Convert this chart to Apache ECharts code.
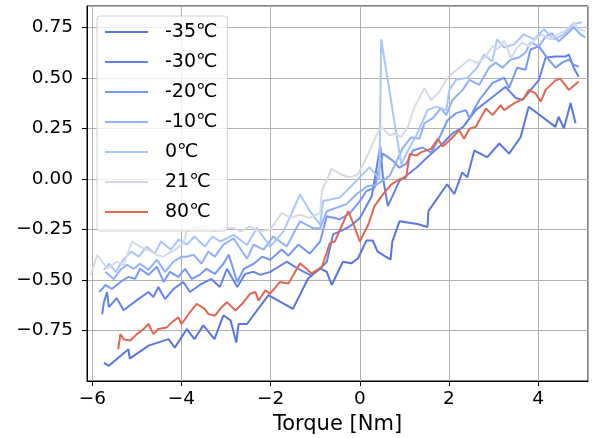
<!DOCTYPE html>
<html>
<head>
<meta charset="utf-8">
<script src="https://cdn.jsdelivr.net/npm/echarts@6/dist/echarts.min.js"></script>
<style>
  html, body { margin: 0; padding: 0; background: #fff; }
  #chart { width: 594px; height: 438px; }
</style>
</head>
<body>
<div id="chart"></div>
<script>
// legend names, one per temperature
const temps = ['-35℃', '-30℃', '-20℃', '-10℃', '0℃', '21℃', '80℃'];

// torque (x) and response (y)
const x35 = [-5.74,-5.63,-5.19,-5.16,-4.74,-4.29,-4.15,-3.88,-3.71,-3.51,-3.26,-3.06,-2.90,-2.77,-2.72,-2.53,-2.05,-1.50,-1.16,-0.89,-0.74,-0.63,-0.38,-0.19,-0.04,0.15,0.29,0.40,0.69,0.73,0.89,1.29,1.52,1.54,1.96,2.12,2.30,2.41,2.57,2.86,3.13,3.35,3.61,3.79,4.39,4.46,4.58,4.73,4.84];
const y35 = [-0.91,-0.925,-0.843,-0.889,-0.825,-0.793,-0.835,-0.743,-0.793,-0.725,-0.793,-0.675,-0.70,-0.81,-0.718,-0.718,-0.575,-0.643,-0.493,-0.443,-0.46,-0.525,-0.41,-0.418,-0.393,-0.305,-0.305,-0.36,-0.40,-0.31,-0.21,-0.223,-0.238,-0.16,-0.027,-0.075,0.032,0.007,0.14,0.107,0.175,0.125,0.207,0.357,0.257,0.307,0.25,0.375,0.275];

const x30 = [-5.78,-5.74,-5.67,-5.63,-5.45,-5.30,-5.00,-4.74,-4.63,-4.52,-4.37,-4.18,-3.96,-3.81,-3.59,-3.33,-3.14,-2.98,-2.75,-2.57,-2.38,-2.23,-2.01,-1.64,-1.38,-1.12,-0.89,-0.74,-0.60,-0.45,-0.22,0.00,0.27,0.46,0.52,0.63,0.89,1.27,1.56,1.86,2.08,2.31,2.60,2.98,3.27,3.50,3.65,4.02,4.17,4.39,4.61,4.69,4.80,4.91];
const y30 = [-0.67,-0.61,-0.56,-0.635,-0.59,-0.65,-0.60,-0.56,-0.585,-0.535,-0.595,-0.545,-0.51,-0.56,-0.525,-0.495,-0.535,-0.445,-0.535,-0.47,-0.46,-0.475,-0.46,-0.41,-0.445,-0.475,-0.445,-0.41,-0.275,-0.26,-0.235,-0.195,-0.085,0.16,0.005,-0.135,-0.01,0.055,0.115,0.175,0.225,0.255,0.34,0.405,0.455,0.40,0.39,0.49,0.60,0.605,0.605,0.615,0.55,0.505];

const x20 = [-5.85,-5.78,-5.71,-5.56,-5.37,-5.19,-5.04,-4.93,-4.74,-4.55,-4.40,-4.26,-4.07,-3.92,-3.77,-3.59,-3.44,-3.25,-3.06,-2.94,-2.75,-2.60,-2.38,-2.19,-2.01,-1.75,-1.60,-1.38,-1.12,-0.89,-0.74,-0.45,-0.22,0.00,0.15,0.33,0.52,0.74,0.89,1.04,1.19,1.41,1.60,1.79,1.97,2.16,2.38,2.46,2.68,2.98,3.24,3.35,3.53,3.72,3.83,4.02,4.20,4.39,4.54,4.69,4.80,4.91];
const y20 = [-0.56,-0.545,-0.525,-0.545,-0.51,-0.485,-0.495,-0.445,-0.475,-0.435,-0.51,-0.46,-0.485,-0.445,-0.495,-0.475,-0.445,-0.47,-0.42,-0.375,-0.51,-0.445,-0.42,-0.385,-0.40,-0.35,-0.38,-0.325,-0.37,-0.31,-0.185,-0.20,-0.17,-0.11,-0.06,-0.045,0.125,0.09,0.055,0.075,0.14,0.155,0.13,0.205,0.29,0.325,0.34,0.30,0.39,0.475,0.50,0.45,0.55,0.54,0.64,0.655,0.60,0.55,0.575,0.59,0.565,0.555];

const x10 = [-5.71,-5.52,-5.37,-5.22,-5.07,-4.93,-4.74,-4.55,-4.37,-4.18,-4.00,-3.88,-3.73,-3.55,-3.40,-3.25,-3.06,-2.83,-2.53,-2.38,-2.16,-1.94,-1.64,-1.34,-1.04,-0.89,-0.74,-0.30,-0.07,0.18,0.37,0.67,0.97,1.15,1.34,1.45,1.64,1.82,1.94,2.08,2.31,2.46,2.68,2.90,3.05,3.20,3.39,3.57,3.72,3.83,4.02,4.17,4.31,4.46,4.69,4.80,4.95,5.06];
const y10 = [-0.46,-0.495,-0.45,-0.425,-0.445,-0.42,-0.45,-0.40,-0.46,-0.41,-0.385,-0.385,-0.375,-0.42,-0.36,-0.385,-0.325,-0.295,-0.395,-0.325,-0.35,-0.285,-0.335,-0.21,-0.245,-0.245,-0.16,-0.125,-0.075,-0.035,-0.03,0.015,0.155,0.205,0.20,0.275,0.30,0.35,0.315,0.39,0.44,0.49,0.465,0.55,0.575,0.55,0.59,0.60,0.625,0.675,0.655,0.705,0.72,0.68,0.725,0.75,0.715,0.70];

const x0 = [-5.74,-5.63,-5.47,-5.31,-5.13,-4.96,-4.78,-4.60,-4.46,-4.24,-4.06,-3.88,-3.71,-3.48,-3.30,-3.13,-2.83,-2.53,-2.31,-2.01,-1.71,-1.34,-1.12,-0.89,-0.82,-0.45,-0.22,0.00,0.22,0.44,0.48,0.93,1.08,1.27,1.52,1.71,1.94,2.01,2.16,2.42,2.63,2.79,2.97,3.08,3.24,3.46,3.68,3.91,4.13,4.35,4.58,4.80,4.98];
const y0 = [-0.45,-0.42,-0.46,-0.40,-0.36,-0.385,-0.335,-0.37,-0.31,-0.35,-0.30,-0.325,-0.285,-0.335,-0.285,-0.31,-0.277,-0.327,-0.243,-0.335,-0.26,-0.077,-0.16,-0.227,-0.11,-0.093,-0.043,0.007,0.057,0.0,0.69,0.073,0.14,0.215,0.34,0.357,0.34,0.44,0.49,0.50,0.55,0.615,0.58,0.69,0.65,0.665,0.715,0.69,0.74,0.69,0.715,0.765,0.775];

const x21 = [-6.04,-5.89,-5.67,-5.45,-5.30,-5.11,-4.93,-4.74,-4.55,-4.40,-4.29,-4.15,-3.96,-3.88,-3.73,-3.51,-3.29,-3.06,-2.83,-2.68,-2.46,-2.27,-2.01,-1.75,-1.56,-1.34,-1.12,-0.89,-0.85,-0.63,-0.40,-0.22,-0.04,0.19,0.37,0.48,0.67,0.78,0.93,1.08,1.23,1.45,1.60,1.79,1.94,2.08,2.23,2.46,2.64,2.83,2.98,3.09,3.24,3.39,3.53,3.65,3.79,3.94,4.09,4.28,4.43,4.61,4.80,4.91,5.06];
const y21 = [-0.477,-0.377,-0.443,-0.41,-0.427,-0.31,-0.335,-0.352,-0.377,-0.385,-0.368,-0.352,-0.318,-0.26,-0.243,-0.235,-0.26,-0.243,-0.243,-0.26,-0.235,-0.26,-0.252,-0.168,-0.193,-0.177,-0.193,-0.168,-0.06,0.05,0.02,0.007,0.023,0.123,0.215,0.257,0.215,0.223,0.207,0.257,0.357,0.448,0.39,0.432,0.49,0.523,0.548,0.59,0.573,0.607,0.657,0.64,0.682,0.598,0.648,0.673,0.657,0.69,0.715,0.69,0.715,0.732,0.773,0.74,0.732];

const x80 = [-5.42,-5.37,-5.30,-5.15,-5.00,-4.85,-4.74,-4.63,-4.52,-4.33,-4.22,-4.07,-4.00,-3.81,-3.66,-3.48,-3.40,-3.25,-3.10,-2.98,-2.79,-2.64,-2.46,-2.34,-2.27,-2.12,-2.01,-1.79,-1.60,-1.34,-1.08,-0.85,-0.67,-0.56,-0.26,-0.15,0.00,0.19,0.33,0.52,0.71,0.89,1.04,1.12,1.27,1.38,1.60,1.75,1.86,2.01,2.23,2.34,2.46,2.60,2.83,2.98,3.16,3.24,3.46,3.68,3.79,3.94,4.06,4.17,4.39,4.50,4.69,4.91];
const y80 = [-0.843,-0.768,-0.793,-0.80,-0.768,-0.743,-0.718,-0.768,-0.743,-0.735,-0.71,-0.685,-0.718,-0.66,-0.618,-0.643,-0.668,-0.677,-0.635,-0.61,-0.652,-0.618,-0.568,-0.56,-0.602,-0.552,-0.568,-0.51,-0.518,-0.418,-0.468,-0.435,-0.318,-0.31,-0.16,-0.218,-0.31,-0.227,-0.135,-0.077,-0.027,-0.002,0.007,0.123,0.115,0.132,0.148,0.198,0.16,0.19,0.24,0.198,0.248,0.257,0.348,0.315,0.365,0.34,0.373,0.398,0.44,0.423,0.382,0.44,0.487,0.495,0.44,0.482];

const xs = [x35, x30, x20, x10, x0, x21, x80];
const ys = [y35, y30, y20, y10, y0, y21, y80];
const colors = ['#5875e1', '#6282ea', '#7598f6', '#8fb1fe', '#a7c5fe', '#d5dbe5', '#e16751'];

const font = 'DejaVu Sans';
const minus = s => String(s).replace('-', '\u2212');

let chart = echarts.init(document.getElementById('chart'));

let series = temps.map((name, i) => ({
  name: name,
  type: 'line',
  data: xs[i].map((x, j) => [x, ys[i][j]]),
  showSymbol: false,
  symbol: 'none',
  lineStyle: { color: colors[i], width: 2 },
  itemStyle: { color: colors[i] },
  animation: false
}));

let option = {
  animation: false,
  grid: {
    left: 87, right: 6, top: 6, bottom: 57,
    containLabel: false, outerBoundsMode: 'none',
    show: true, borderColor: '#000', borderWidth: 1, backgroundColor: 'transparent'
  },
  legend: {
    orient: 'vertical',
    left: 97, top: 16,
    padding: [6, 10, 9, 7],
    itemWidth: 43, itemHeight: 2, itemGap: 10,
    backgroundColor: 'rgba(255,255,255,0.8)',
    borderColor: '#d0d0d0', borderWidth: 1, borderRadius: 3,
    textStyle: { fontFamily: font, fontSize: 19, color: '#000', lineHeight: 20, padding: [0, 0, 0, 12] },
    data: temps
  },
  xAxis: {
    type: 'value',
    min: -6.12, max: 5.12, splitNumber: 5,
    name: 'Torque [Nm]',
    nameLocation: 'middle', nameGap: 33,
    nameTextStyle: { fontFamily: font, fontSize: 21, color: '#000' },
    axisLine: { show: true, onZero: false, lineStyle: { color: '#000' } },
    axisTick: { show: true, length: 5, lineStyle: { color: '#000' } },
    axisLabel: {
      fontFamily: font, fontSize: 18.5, color: '#000', margin: 9,
      showMinLabel: false, showMaxLabel: false,
      formatter: v => (Math.abs(v - Math.round(v)) < 1e-6 && Math.round(v) % 2 === 0) ? minus(Math.round(v)) : ''
    },
    splitLine: { show: true, lineStyle: { color: '#b0b0b0', width: 1 } }
  },
  yAxis: {
    type: 'value',
    min: -1.0, max: 0.855, interval: 0.25,
    axisLine: { show: true, onZero: false, lineStyle: { color: '#000' } },
    axisTick: { show: true, length: 5, lineStyle: { color: '#000' } },
    axisLabel: {
      fontFamily: font, fontSize: 18.5, color: '#000', margin: 14,
      showMinLabel: false, showMaxLabel: false,
      formatter: v => minus(v.toFixed(2))
    },
    splitLine: { show: true, lineStyle: { color: '#b0b0b0', width: 1 } }
  },
  series: series
};

chart.setOption(option);
</script>
</body>
</html>
